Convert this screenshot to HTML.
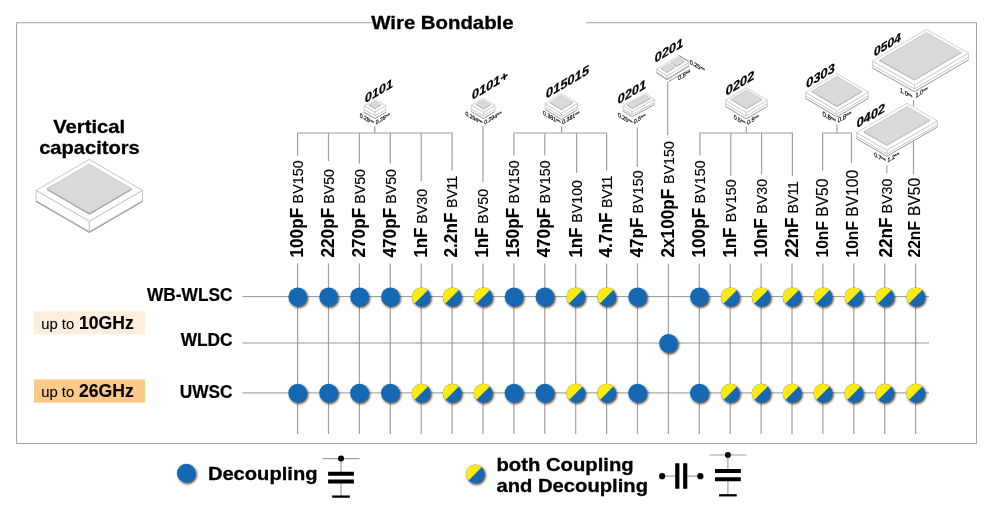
<!DOCTYPE html>
<html lang="en"><head><meta charset="utf-8"><title>Wire Bondable vertical capacitors</title>
<style>
html,body{margin:0;padding:0;background:#fff;}
body{width:1000px;height:507px;overflow:hidden;font-family:"Liberation Sans",Arial,Helvetica,sans-serif;}
svg{display:block;position:absolute;left:0;top:0;}
text{font-family:"Liberation Sans",Arial,Helvetica,sans-serif;fill:#000;}
.b{font-weight:bold;}
.bi{font-weight:bold;font-style:italic;}
.ln{stroke:#a0a0a0;stroke-width:1.2;fill:none;}
.ch{stroke:#c0c0c0;stroke-width:0.7;fill:#fff;stroke-linejoin:round;}
.pad{stroke:#b0b0b0;stroke-width:0.5;fill:#d9d9d9;stroke-linejoin:round;}
.chd{stroke:#8a8a8a;stroke-width:0.7;fill:#fff;stroke-linejoin:round;}
.padd{stroke:none;fill:#9c9c9c;}
.dim{fill:#111;stroke:#111;stroke-width:0.22;}
</style></head><body>
<svg width="1000" height="507" viewBox="0 0 1000 507">
<defs>
<filter id="sh" x="-30%" y="-30%" width="170%" height="170%"><feDropShadow dx="1.2" dy="1.5" stdDeviation="0.9" flood-color="#2a1a0a" flood-opacity="0.85"/></filter>
<clipPath id="hc"><path d="M-20,-20 L20,-20 L-20,20 Z" transform="translate(-0.05,-0.05)"/></clipPath>
<g id="cb"><circle r="9.35" fill="#1268b3" filter="url(#sh)"/></g>
<g id="chf"><circle r="9.35" fill="#1268b3" filter="url(#sh)"/><circle r="9.35" fill="#fcea10" clip-path="url(#hc)"/></g>
</defs>
<rect width="1000" height="507" fill="#fff"/>
<path class="ln" d="M372.5,22.7 H16.6 V443.5 H976.5 V22.7 H585.8" style="stroke:#a2a2a2;stroke-width:1.05"/>
<text class="b" x="371.3" y="28.8" font-size="17.9" stroke="#000" stroke-width="0.3" textLength="142.3" lengthAdjust="spacingAndGlyphs">Wire Bondable</text>
<text class="b" x="89.2" y="133.3" font-size="17.9" stroke="#000" stroke-width="0.3" text-anchor="middle" textLength="72" lengthAdjust="spacingAndGlyphs">Vertical</text>
<text class="b" x="89.5" y="153.9" font-size="17.9" stroke="#000" stroke-width="0.3" text-anchor="middle" textLength="100.6" lengthAdjust="spacingAndGlyphs">capacitors</text>
<path class="ch" d="M36.1,200.6 L89.4,231.5 L142.5,200.6 L142.5,201.5 L89.4,232.4 L36.1,201.5 Z" style="stroke-width:0.9"/>
<path class="chd" style="fill:none;stroke-width:0.9" d="M36.1,201.5 L89.4,232.4 L142.5,201.5"/>
<path class="ch" d="M36.1,190.3 L89.4,221.2 L89.4,231.5 L36.1,200.6 Z" style="stroke-width:0.9"/>
<path class="ch" d="M142.5,190.3 L89.4,221.2 L89.4,231.5 L142.5,200.6 Z" style="stroke-width:0.9"/>
<path class="ch" d="M89.2,159.4 L142.5,190.3 L89.4,221.2 L36.1,190.3 Z" style="stroke-width:0.9"/>
<path class="padd" d="M47.0,188.6 L89.4,213.2 L131.6,188.6 L131.6,190.1 L89.4,214.7 L47.0,190.1 Z"/>
<path class="pad" d="M89.2,164.0 L131.6,188.6 L89.4,213.2 L47.0,188.6 Z"/>
<path class="ln" d="M297.6,263.4 V434"/>
<path class="ln" d="M328.5,133.0 V161.0"/>
<path class="ln" d="M328.5,263.4 V434"/>
<path class="ln" d="M359.4,133.0 V163.6"/>
<path class="ln" d="M359.4,263.4 V434"/>
<path class="ln" d="M390.3,133.0 V163.6"/>
<path class="ln" d="M390.3,263.4 V434"/>
<path class="ln" d="M421.2,133.0 V181.0"/>
<path class="ln" d="M421.2,263.4 V434"/>
<path class="ln" d="M452.1,263.4 V434"/>
<path class="ln" d="M483.0,126.4 V182.3"/>
<path class="ln" d="M483.0,263.4 V434"/>
<path class="ln" d="M513.9,263.4 V434"/>
<path class="ln" d="M544.8,133.0 V155.4"/>
<path class="ln" d="M544.8,263.4 V434"/>
<path class="ln" d="M576.6,133.0 V172.8"/>
<path class="ln" d="M575.7,263.4 V434"/>
<path class="ln" d="M606.6,263.4 V434"/>
<path class="ln" d="M637.3,127.5 V167.0"/>
<path class="ln" d="M637.5,263.4 V434"/>
<path class="ln" d="M667.7,82.0 V135.3"/>
<path class="ln" d="M668.4,263.4 V434"/>
<path class="ln" d="M699.3,263.4 V434"/>
<path class="ln" d="M730.8,133.0 V175.9"/>
<path class="ln" d="M730.2,263.4 V434"/>
<path class="ln" d="M761.6,133.0 V174.6"/>
<path class="ln" d="M761.1,263.4 V434"/>
<path class="ln" d="M792.0,263.4 V434"/>
<path class="ln" d="M822.9,263.4 V434"/>
<path class="ln" d="M853.8,263.4 V434"/>
<path class="ln" d="M886.8,165.3 V173.3"/>
<path class="ln" d="M884.7,263.4 V434"/>
<path class="ln" d="M913.5,139.0 V174.6"/>
<path class="ln" d="M915.6,263.4 V434"/>
<path class="ln" stroke-linejoin="round" d="M297.6,155.8 V133 H452.1 V170.8 M374.8,126.2 V133"/>
<path class="ln" stroke-linejoin="round" d="M513.9,155.4 V133 H606.6 V170.8 M561.6,126.2 V133"/>
<path class="ln" stroke-linejoin="round" d="M699.9,155.4 V133 H792.4 V175.9 M746.3,126.2 V133"/>
<path class="ln" stroke-linejoin="round" d="M822.6,170.7 V133 H851.5 V162.8 M836.9,124.5 V133"/>
<path class="ln" d="M913.5,100 V106"/>
<path class="ln" style="stroke:#959595;stroke-width:1" d="M242.5,296.6 H929"/>
<path class="ln" style="stroke:#959595;stroke-width:1" d="M242.5,343.0 H929"/>
<path class="ln" style="stroke:#959595;stroke-width:1" d="M242.5,392.9 H929"/>
<text class="b" font-size="17.2" stroke="#000" stroke-width="0.1" transform="translate(302.9,257.5) rotate(-90) scale(1.0,1.04)">100pF</text>
<text font-size="14.25" stroke="#000" stroke-width="0.12" letter-spacing="0.08" transform="translate(302.9,203.4) rotate(-90) scale(1.0,1.04)">BV150</text>
<text class="b" font-size="17.2" stroke="#000" stroke-width="0.1" transform="translate(334.1,257.5) rotate(-90) scale(1.0,1.04)">220pF</text>
<text font-size="14.25" stroke="#000" stroke-width="0.12" transform="translate(334.1,203.8) rotate(-90) scale(1.0,1.04)">BV50</text>
<text class="b" font-size="17.2" stroke="#000" stroke-width="0.1" transform="translate(364.7,257.5) rotate(-90) scale(1.0,1.04)">270pF</text>
<text font-size="14.25" stroke="#000" stroke-width="0.12" transform="translate(364.7,203.8) rotate(-90) scale(1.0,1.04)">BV50</text>
<text class="b" font-size="17.2" stroke="#000" stroke-width="0.1" transform="translate(395.9,257.5) rotate(-90) scale(1.0,1.04)">470pF</text>
<text font-size="14.25" stroke="#000" stroke-width="0.12" transform="translate(395.9,203.8) rotate(-90) scale(1.0,1.04)">BV50</text>
<text class="b" font-size="17.2" stroke="#000" stroke-width="0.1" letter-spacing="-0.25" transform="translate(426.6,257.5) rotate(-90) scale(1.0,1.04)">1nF</text>
<text font-size="14.25" stroke="#000" stroke-width="0.12" transform="translate(426.6,223.7) rotate(-90) scale(1.0,1.04)">BV30</text>
<text class="b" font-size="17.2" stroke="#000" stroke-width="0.1" transform="translate(457.1,257.5) rotate(-90) scale(1.0,1.04)">2.2nF</text>
<text font-size="14.25" stroke="#000" stroke-width="0.12" letter-spacing="-0.45" transform="translate(457.1,207.9) rotate(-90) scale(1.0,1.04)">BV11</text>
<text class="b" font-size="17.2" stroke="#000" stroke-width="0.1" letter-spacing="-0.25" transform="translate(487.8,257.5) rotate(-90) scale(1.0,1.04)">1nF</text>
<text font-size="14.25" stroke="#000" stroke-width="0.12" transform="translate(487.8,223.7) rotate(-90) scale(1.0,1.04)">BV50</text>
<text class="b" font-size="17.2" stroke="#000" stroke-width="0.1" transform="translate(519.1,257.5) rotate(-90) scale(1.0,1.04)">150pF</text>
<text font-size="14.25" stroke="#000" stroke-width="0.12" letter-spacing="0.08" transform="translate(519.1,203.4) rotate(-90) scale(1.0,1.04)">BV150</text>
<text class="b" font-size="17.2" stroke="#000" stroke-width="0.1" transform="translate(549.6,257.5) rotate(-90) scale(1.0,1.04)">470pF</text>
<text font-size="14.25" stroke="#000" stroke-width="0.12" letter-spacing="0.08" transform="translate(549.6,203.4) rotate(-90) scale(1.0,1.04)">BV150</text>
<text class="b" font-size="17.2" stroke="#000" stroke-width="0.1" letter-spacing="-0.25" transform="translate(581.7,257.5) rotate(-90) scale(1.0,1.04)">1nF</text>
<text font-size="14.25" stroke="#000" stroke-width="0.12" transform="translate(581.7,222.7) rotate(-90) scale(1.0,1.04)">BV100</text>
<text class="b" font-size="17.2" stroke="#000" stroke-width="0.1" transform="translate(612.0,257.5) rotate(-90) scale(1.0,1.04)">4.7nF</text>
<text font-size="14.25" stroke="#000" stroke-width="0.12" letter-spacing="-0.45" transform="translate(612.0,207.9) rotate(-90) scale(1.0,1.04)">BV11</text>
<text class="b" font-size="17.2" stroke="#000" stroke-width="0.1" transform="translate(642.9,257.5) rotate(-90) scale(1.0,1.04)">47pF</text>
<text font-size="14.25" stroke="#000" stroke-width="0.12" letter-spacing="0.08" transform="translate(642.9,213.4) rotate(-90) scale(1.0,1.04)">BV150</text>
<text class="b" font-size="17.2" stroke="#000" stroke-width="0.1" transform="translate(673.5,257.5) rotate(-90) scale(1.0,1.04)">2x100pF</text>
<text font-size="14.25" stroke="#000" stroke-width="0.12" letter-spacing="0.08" transform="translate(673.5,184.1) rotate(-90) scale(1.0,1.04)">BV150</text>
<text class="b" font-size="17.2" stroke="#000" stroke-width="0.1" transform="translate(704.8,257.5) rotate(-90) scale(1.0,1.04)">100pF</text>
<text font-size="14.25" stroke="#000" stroke-width="0.12" letter-spacing="0.08" transform="translate(704.8,203.4) rotate(-90) scale(1.0,1.04)">BV150</text>
<text class="b" font-size="17.2" stroke="#000" stroke-width="0.1" letter-spacing="-0.25" transform="translate(735.7,257.5) rotate(-90) scale(1.0,1.04)">1nF</text>
<text font-size="14.25" stroke="#000" stroke-width="0.12" letter-spacing="0.08" transform="translate(735.7,222.3) rotate(-90) scale(1.0,1.04)">BV150</text>
<text class="b" font-size="17.2" stroke="#000" stroke-width="0.1" letter-spacing="-0.25" transform="translate(766.6,257.5) rotate(-90) scale(1.0,1.04)">10nF</text>
<text font-size="14.25" stroke="#000" stroke-width="0.12" transform="translate(766.6,213.7) rotate(-90) scale(1.0,1.04)">BV30</text>
<text class="b" font-size="17.2" stroke="#000" stroke-width="0.1" transform="translate(797.5,257.5) rotate(-90) scale(1.0,1.04)">22nF</text>
<text font-size="14.25" stroke="#000" stroke-width="0.12" letter-spacing="-0.45" transform="translate(797.5,213.4) rotate(-90) scale(1.0,1.04)">BV11</text>
<text class="b" font-size="16.2" transform="translate(827.9,257.5) rotate(-90) scale(0.965,1.0)">10nF</text>
<text font-size="15.6" stroke="#000" stroke-width="0.12" transform="translate(827.9,216.7) rotate(-90) scale(1.0,1.05)">BV50</text>
<text class="b" font-size="16.2" transform="translate(857.8,257.5) rotate(-90) scale(0.965,1.0)">10nF</text>
<text font-size="15.6" stroke="#000" stroke-width="0.12" transform="translate(857.8,216.7) rotate(-90) scale(1.0,1.05)">BV100</text>
<text class="b" font-size="17.2" stroke="#000" stroke-width="0.1" transform="translate(892.0,257.5) rotate(-90) scale(1.0,1.04)">22nF</text>
<text font-size="14.25" stroke="#000" stroke-width="0.12" transform="translate(892.0,213.4) rotate(-90) scale(1.0,1.04)">BV30</text>
<text class="b" font-size="16.2" transform="translate(920.4,257.5) rotate(-90) scale(0.965,1.0)">22nF</text>
<text font-size="15.6" stroke="#000" stroke-width="0.12" transform="translate(920.4,216.0) rotate(-90) scale(1.0,1.05)">BV50</text>
<use href="#cb" x="297.7" y="296.9"/>
<use href="#cb" x="297.7" y="393.2"/>
<use href="#cb" x="328.6" y="296.9"/>
<use href="#cb" x="328.6" y="393.2"/>
<use href="#cb" x="359.5" y="296.9"/>
<use href="#cb" x="359.5" y="393.2"/>
<use href="#cb" x="390.4" y="296.9"/>
<use href="#cb" x="390.4" y="393.2"/>
<use href="#chf" x="421.3" y="296.9"/>
<use href="#chf" x="421.3" y="393.2"/>
<use href="#chf" x="452.2" y="296.9"/>
<use href="#chf" x="452.2" y="393.2"/>
<use href="#chf" x="483.1" y="296.9"/>
<use href="#chf" x="483.1" y="393.2"/>
<use href="#cb" x="514.0" y="296.9"/>
<use href="#cb" x="514.0" y="393.2"/>
<use href="#cb" x="544.9" y="296.9"/>
<use href="#cb" x="544.9" y="393.2"/>
<use href="#chf" x="575.8" y="296.9"/>
<use href="#chf" x="575.8" y="393.2"/>
<use href="#chf" x="606.7" y="296.9"/>
<use href="#chf" x="606.7" y="393.2"/>
<use href="#cb" x="637.6" y="296.9"/>
<use href="#cb" x="637.6" y="393.2"/>
<use href="#cb" x="668.5" y="343.3"/>
<use href="#cb" x="699.4" y="296.9"/>
<use href="#cb" x="699.4" y="393.2"/>
<use href="#chf" x="730.3" y="296.9"/>
<use href="#chf" x="730.3" y="393.2"/>
<use href="#chf" x="761.2" y="296.9"/>
<use href="#chf" x="761.2" y="393.2"/>
<use href="#chf" x="792.1" y="296.9"/>
<use href="#chf" x="792.1" y="393.2"/>
<use href="#chf" x="823.0" y="296.9"/>
<use href="#chf" x="823.0" y="393.2"/>
<use href="#chf" x="853.9" y="296.9"/>
<use href="#chf" x="853.9" y="393.2"/>
<use href="#chf" x="884.8" y="296.9"/>
<use href="#chf" x="884.8" y="393.2"/>
<use href="#chf" x="915.7" y="296.9"/>
<use href="#chf" x="915.7" y="393.2"/>
<text class="b" font-size="17.3" text-anchor="end" stroke="#000" stroke-width="0.2" transform="translate(232.5,301.2) scale(1,1.06)">WB-WLSC</text>
<text class="b" font-size="17.3" text-anchor="end" stroke="#000" stroke-width="0.2" transform="translate(232.5,346.1) scale(1,1.06)">WLDC</text>
<text class="b" font-size="17.3" text-anchor="end" stroke="#000" stroke-width="0.2" transform="translate(232.5,397.5) scale(1,1.06)">UWSC</text>
<rect x="34" y="311.3" width="111" height="23" fill="#fdeedd"/>
<rect x="34" y="379.4" width="111" height="23.2" fill="#fbc98a"/>
<text x="41.3" y="328.6"><tspan font-size="14.8" stroke="#000" stroke-width="0.1">up to </tspan><tspan class="b" font-size="17.6" stroke="#000" stroke-width="0.15" dx="0.7">10GHz</tspan></text>
<text x="41.3" y="396.6"><tspan font-size="14.8" stroke="#000" stroke-width="0.1">up to </tspan><tspan class="b" font-size="17.6" stroke="#000" stroke-width="0.15" dx="0.7">26GHz</tspan></text>
<path class="ch" d="M364.1,109.5 L374.9,115.7 L385.8,109.5 L385.8,112.3 L374.9,118.5 L364.1,112.3 Z"/>
<path class="chd" style="fill:none" d="M364.1,112.3 L374.9,118.5 L385.8,112.3"/>
<path class="ch" d="M364.1,105.7 L374.9,111.9 L374.9,115.7 L364.1,109.5 Z"/>
<path class="ch" d="M385.8,105.7 L374.9,111.9 L374.9,115.7 L385.8,109.5 Z"/>
<path class="ch" d="M375.0,99.5 L385.8,105.7 L374.9,111.9 L364.1,105.7 Z"/>
<path class="padd" d="M368.8,104.7 L374.9,108.2 L381.1,104.7 L381.1,105.5 L374.9,109.0 L368.8,105.5 Z"/>
<path class="pad" d="M375.0,101.2 L381.1,104.7 L374.9,108.2 L368.8,104.7 Z"/>
<text class="bi" font-size="14.6" stroke="#000" stroke-width="0.24" stroke-linejoin="round" transform="matrix(0.862,-0.507,0.09,0.81,365.3,103.0)">0101</text>
<text class="dim" font-size="5.9" text-anchor="end" transform="matrix(0.8660,0.5000,0,1,373.9,125.1)">0.25<tspan font-size="3.0" dy="-1.8">mm</tspan></text>
<text class="dim" font-size="5.9" transform="matrix(0.8660,-0.5000,0,1,375.7,124.7)">0.25<tspan font-size="3.0" dy="-1.8">mm</tspan></text>
<path class="ch" d="M471.3,108.9 L483.5,115.9 L495.0,108.9 L495.0,111.5 L483.5,118.5 L471.3,111.5 Z"/>
<path class="chd" style="fill:none" d="M471.3,111.5 L483.5,118.5 L495.0,111.5"/>
<path class="ch" d="M471.3,105.3 L483.5,112.3 L483.5,115.9 L471.3,108.9 Z"/>
<path class="ch" d="M495.0,105.3 L483.5,112.3 L483.5,115.9 L495.0,108.9 Z"/>
<path class="ch" d="M482.8,98.3 L495.0,105.3 L483.5,112.3 L471.3,105.3 Z"/>
<path class="padd" d="M475.8,104.2 L483.5,108.7 L490.5,104.4 L490.5,105.2 L483.5,109.5 L475.8,105.0 Z"/>
<path class="pad" d="M482.8,99.9 L490.5,104.4 L483.5,108.7 L475.8,104.2 Z"/>
<text class="bi" font-size="14.8" stroke="#000" stroke-width="0.24" stroke-linejoin="round" transform="matrix(0.862,-0.507,0.09,0.81,472.3,99.8)">0101+</text>
<text class="dim" font-size="5.9" text-anchor="end" transform="matrix(0.8660,0.5000,0,1,482.5,125.1)">0.294<tspan font-size="3.0" dy="-1.8">mm</tspan></text>
<text class="dim" font-size="5.9" transform="matrix(0.8660,-0.5000,0,1,484.3,124.7)">0.294<tspan font-size="3.0" dy="-1.8">mm</tspan></text>
<path class="ch" d="M545.2,106.8 L561.4,116.8 L577.5,106.8 L577.5,109.4 L561.4,119.4 L545.2,109.4 Z"/>
<path class="chd" style="fill:none" d="M545.2,109.4 L561.4,119.4 L577.5,109.4"/>
<path class="ch" d="M545.2,103.4 L561.4,113.4 L561.4,116.8 L545.2,106.8 Z"/>
<path class="ch" d="M577.5,103.4 L561.4,113.4 L561.4,116.8 L577.5,106.8 Z"/>
<path class="ch" d="M561.3,93.4 L577.5,103.4 L561.4,113.4 L545.2,103.4 Z"/>
<path class="padd" d="M550.0,102.4 L561.4,109.5 L572.7,102.4 L572.7,103.2 L561.4,110.3 L550.0,103.2 Z"/>
<path class="pad" d="M561.3,95.3 L572.7,102.4 L561.4,109.5 L550.0,102.4 Z"/>
<text class="bi" font-size="15.0" stroke="#000" stroke-width="0.24" stroke-linejoin="round" transform="matrix(0.862,-0.507,0.09,0.81,546.3,98.6)">015015</text>
<text class="dim" font-size="6.0" text-anchor="end" transform="matrix(0.8660,0.5000,0,1,560.4,124.6)">0.381<tspan font-size="3.0" dy="-1.8">mm</tspan></text>
<text class="dim" font-size="6.0" transform="matrix(0.8660,-0.5000,0,1,562.2,124.6)">0.381<tspan font-size="3.0" dy="-1.8">mm</tspan></text>
<path class="ch" d="M623.0,108.7 L632.1,114.5 L654.4,102.4 L654.4,104.6 L632.1,116.7 L623.0,110.9 Z"/>
<path class="chd" style="fill:none" d="M623.0,110.9 L632.1,116.7 L654.4,104.6"/>
<path class="ch" d="M623.0,105.7 L632.1,111.5 L632.1,114.5 L623.0,108.7 Z"/>
<path class="ch" d="M654.4,99.4 L632.1,111.5 L632.1,114.5 L654.4,102.4 Z"/>
<path class="ch" d="M645.3,93.6 L654.4,99.4 L632.1,111.5 L623.0,105.7 Z"/>
<path class="padd" d="M627.1,104.8 L632.2,108.1 L650.3,98.3 L650.3,99.1 L632.2,108.9 L627.1,105.6 Z"/>
<path class="pad" d="M645.2,95.0 L650.3,98.3 L632.2,108.1 L627.1,104.8 Z"/>
<text class="bi" font-size="14.8" stroke="#000" stroke-width="0.24" stroke-linejoin="round" transform="matrix(0.862,-0.507,0.09,0.81,618.1,104.3)">0201</text>
<text class="dim" font-size="6.1" text-anchor="end" transform="matrix(0.8660,0.5000,0,1,632.5,124.9)">0.25<tspan font-size="3.0" dy="-1.8">mm</tspan></text>
<text class="dim" font-size="6.1" transform="matrix(0.8660,-0.5000,0,1,633.7,124.1)">0.5<tspan font-size="3.0" dy="-1.8">mm</tspan></text>
<path class="ch" d="M656.6,71.9 L667.0,78.6 L689.1,65.0 L689.1,66.1 L667.0,79.7 L656.6,73.0 Z"/>
<path class="chd" style="fill:none" d="M656.6,73.0 L667.0,79.7 L689.1,66.1"/>
<path class="ch" d="M656.6,69.2 L667.0,75.9 L667.0,78.6 L656.6,71.9 Z"/>
<path class="ch" d="M689.1,62.3 L667.0,75.9 L667.0,78.6 L689.1,65.0 Z"/>
<path class="ch" d="M678.7,55.6 L689.1,62.3 L667.0,75.9 L656.6,69.2 Z"/>
<path class="padd" d="M670.8,62.3 L676.6,66.1 L684.5,61.3 L684.5,62.1 L676.6,66.9 L670.8,63.1 Z"/>
<path class="pad" d="M678.7,57.5 L684.5,61.3 L676.6,66.1 L670.8,62.3 Z"/>
<path class="padd" d="M661.2,68.2 L667.0,72.0 L674.9,67.2 L674.9,68.0 L667.0,72.8 L661.2,69.0 Z"/>
<path class="pad" d="M669.1,63.4 L674.9,67.2 L667.0,72.0 L661.2,68.2 Z"/>
<text class="bi" font-size="14.8" stroke="#000" stroke-width="0.24" stroke-linejoin="round" transform="matrix(0.862,-0.507,0.09,0.81,655.1,62.7)">0201</text>
<path class="ch" d="M725.5,103.5 L746.3,115.9 L767.4,103.5 L767.4,106.4 L746.3,118.8 L725.5,106.4 Z"/>
<path class="chd" style="fill:none" d="M725.5,106.4 L746.3,118.8 L767.4,106.4"/>
<path class="ch" d="M725.5,100.2 L746.3,112.6 L746.3,115.9 L725.5,103.5 Z"/>
<path class="ch" d="M767.4,100.2 L746.3,112.6 L746.3,115.9 L767.4,103.5 Z"/>
<path class="ch" d="M746.6,87.8 L767.4,100.2 L746.3,112.6 L725.5,100.2 Z"/>
<path class="padd" d="M730.7,99.2 L746.3,108.5 L762.2,99.2 L762.2,100.0 L746.3,109.3 L730.7,100.0 Z"/>
<path class="pad" d="M746.6,89.9 L762.2,99.2 L746.3,108.5 L730.7,99.2 Z"/>
<text class="bi" font-size="15" stroke="#000" stroke-width="0.24" stroke-linejoin="round" transform="matrix(0.862,-0.507,0.09,0.81,726.0,95.7)">0202</text>
<text class="dim" font-size="6.1" text-anchor="end" transform="matrix(0.8660,0.5000,0,1,745.3,125.4)">0.5<tspan font-size="3.0" dy="-1.8">mm</tspan></text>
<text class="dim" font-size="6.1" transform="matrix(0.8660,-0.5000,0,1,747.1,125.0)">0.5<tspan font-size="3.0" dy="-1.8">mm</tspan></text>
<path class="ch" d="M805.5,95.7 L836.9,114.3 L868.4,95.7 L868.4,98.3 L836.9,116.9 L805.5,98.3 Z"/>
<path class="chd" style="fill:none" d="M805.5,98.3 L836.9,116.9 L868.4,98.3"/>
<path class="ch" d="M805.5,92.2 L836.9,110.8 L836.9,114.3 L805.5,95.7 Z"/>
<path class="ch" d="M868.4,92.2 L836.9,110.8 L836.9,114.3 L868.4,95.7 Z"/>
<path class="ch" d="M837.0,73.6 L868.4,92.2 L836.9,110.8 L805.5,92.2 Z"/>
<path class="padd" d="M811.7,91.2 L836.9,106.1 L862.2,91.2 L862.2,92.0 L836.9,106.9 L811.7,92.0 Z"/>
<path class="pad" d="M837.0,76.3 L862.2,91.2 L836.9,106.1 L811.7,91.2 Z"/>
<text class="bi" font-size="15" stroke="#000" stroke-width="0.24" stroke-linejoin="round" transform="matrix(0.862,-0.507,0.09,0.81,806.5,88.3)">0303</text>
<text class="dim" font-size="7.0" text-anchor="end" transform="matrix(0.8660,0.5000,0,1,835.9,123.5)">0.8<tspan font-size="3.5" dy="-2.1">mm</tspan></text>
<text class="dim" font-size="7.0" transform="matrix(0.8660,-0.5000,0,1,837.7,123.1)">0.8<tspan font-size="3.5" dy="-2.1">mm</tspan></text>
<path class="ch" d="M872.4,65.1 L914.5,88.8 L968.5,57.0 L968.5,59.9 L914.5,91.7 L872.4,68.0 Z"/>
<path class="chd" style="fill:none" d="M872.4,68.0 L914.5,91.7 L968.5,59.9"/>
<path class="ch" d="M872.4,61.2 L914.5,84.9 L914.5,88.8 L872.4,65.1 Z"/>
<path class="ch" d="M968.5,53.1 L914.5,84.9 L914.5,88.8 L968.5,57.0 Z"/>
<path class="ch" d="M926.4,29.4 L968.5,53.1 L914.5,84.9 L872.4,61.2 Z"/>
<path class="padd" d="M879.5,60.1 L914.5,79.8 L961.4,52.2 L961.4,53.0 L914.5,80.6 L879.5,60.9 Z"/>
<path class="pad" d="M926.4,32.5 L961.4,52.2 L914.5,79.8 L879.5,60.1 Z"/>
<text class="bi" font-size="14.2" stroke="#000" stroke-width="0.24" stroke-linejoin="round" transform="matrix(0.862,-0.507,0.09,0.81,874.2,56.6)">0504</text>
<text class="dim" font-size="6.5" text-anchor="end" transform="matrix(0.8660,0.5000,0,1,912.4,99.1)">1.0<tspan font-size="3.2" dy="-1.9">mm</tspan></text>
<text class="dim" font-size="6.5" transform="matrix(0.8660,-0.5000,0,1,915.4,97.9)">1.0<tspan font-size="3.2" dy="-1.9">mm</tspan></text>
<path class="ch" d="M856.5,136.2 L886.8,153.9 L937.4,124.7 L937.4,127.0 L886.8,156.2 L856.5,138.6 Z"/>
<path class="chd" style="fill:none" d="M856.5,138.6 L886.8,156.2 L937.4,127.0"/>
<path class="ch" d="M856.5,132.6 L886.8,150.2 L886.8,153.9 L856.5,136.2 Z"/>
<path class="ch" d="M937.4,121.0 L886.8,150.2 L886.8,153.9 L937.4,124.7 Z"/>
<path class="ch" d="M907.1,103.3 L937.4,121.0 L886.8,150.2 L856.5,132.6 Z"/>
<path class="padd" d="M863.8,131.6 L886.8,145.0 L930.1,120.0 L930.1,120.8 L886.8,145.8 L863.8,132.4 Z"/>
<path class="pad" d="M907.1,106.5 L930.1,120.0 L886.8,145.0 L863.8,131.6 Z"/>
<text class="bi" font-size="14.8" stroke="#000" stroke-width="0.24" stroke-linejoin="round" transform="matrix(0.862,-0.507,0.09,0.81,857.0,128.0)">0402</text>
<text class="dim" font-size="6.0" text-anchor="end" transform="matrix(0.8660,0.5000,0,1,885.8,162.8)">0.7<tspan font-size="3.0" dy="-1.8">mm</tspan></text>
<text class="dim" font-size="6.0" transform="matrix(0.8660,-0.5000,0,1,887.6,162.4)">1.2<tspan font-size="3.0" dy="-1.8">mm</tspan></text>
<text class="dim" font-size="6.2" transform="matrix(0.8660,0.5000,0,1,689.8,63.7)">0.25<tspan font-size="3.1" dy="-1.8">mm</tspan></text>
<text class="dim" font-size="6.2" transform="matrix(0.8660,-0.5000,0,1,678.3,80.6)">0.5<tspan font-size="3.1" dy="-1.8">mm</tspan></text>
<path d="M678.7,55.4 L688.6,61.2 M668.3,81.6 L689.8,69.5" stroke="#444" stroke-width="0.6" fill="none"/>
<use href="#cb" x="186.3" y="473.2"/>
<text class="b" x="207.9" y="479.6" font-size="17.9" stroke="#000" stroke-width="0.3" textLength="109.6" lengthAdjust="spacingAndGlyphs">Decoupling</text>
<g transform="translate(341.0,458.6)">
<path d="M-18.5,0 H18.5" stroke="#a0a0a0" stroke-width="1.1" fill="none"/>
<path d="M0,0 V14.0 M0,24.0 V38.0" stroke="#a0a0a0" stroke-width="1.2" fill="none"/>
<circle r="3" fill="#000"/>
<path d="M-12.9,15.1 H12.9 M-12.9,22.9 H12.9" stroke="#000" stroke-width="4.1"/>
<path d="M-8.8,38.0 H8.8" stroke="#000" stroke-width="2.3"/>
</g>
<use href="#chf" x="475.3" y="473.8"/>
<text class="b" x="496.5" y="471.2" font-size="17.9" stroke="#000" stroke-width="0.3" textLength="137.2" lengthAdjust="spacingAndGlyphs">both Coupling</text>
<text class="b" x="496.5" y="492.1" font-size="17.9" stroke="#000" stroke-width="0.3" textLength="151.5" lengthAdjust="spacingAndGlyphs">and Decoupling</text>
<g transform="translate(681.25,476.2)"><path d="M-19,0 H-6 M6,0 H19" stroke="#a0a0a0" stroke-width="1.2" fill="none"/><circle cx="-19.1" r="3.1" fill="#000"/><circle cx="19.1" r="3.1" fill="#000"/><path d="M-3.95,-12.9 V12.6 M3.95,-12.9 V12.6" stroke="#000" stroke-width="4.2"/></g>
<g transform="translate(727.9,455.0)">
<path d="M-18.5,0 H18.5" stroke="#a0a0a0" stroke-width="1.1" fill="none"/>
<path d="M0,0 V14.8 M0,25.4 V40.3" stroke="#a0a0a0" stroke-width="1.2" fill="none"/>
<circle r="3" fill="#000"/>
<path d="M-12.9,16.0 H12.9 M-12.9,24.3 H12.9" stroke="#000" stroke-width="4.1"/>
<path d="M-8.8,40.3 H8.8" stroke="#000" stroke-width="2.3"/>
</g>
</svg></body></html>
